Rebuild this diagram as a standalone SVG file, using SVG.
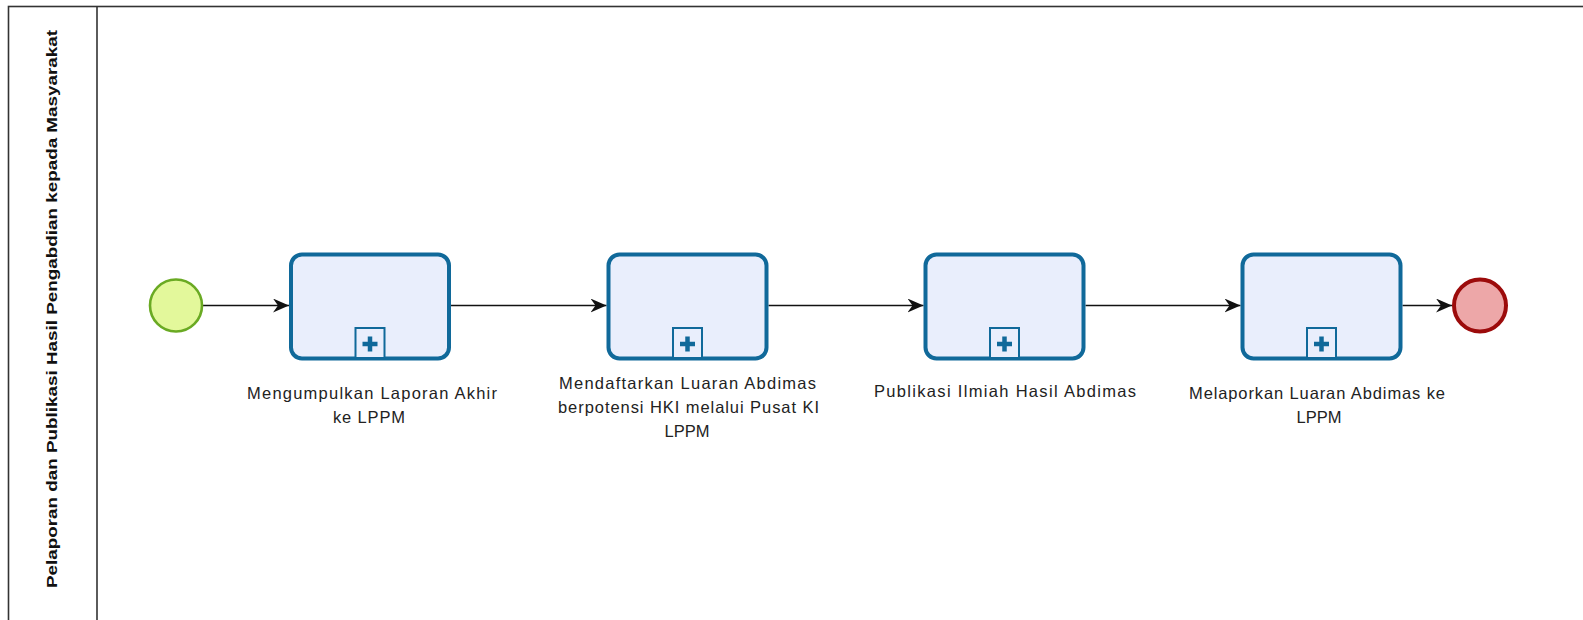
<svg xmlns="http://www.w3.org/2000/svg" width="1583" height="620" viewBox="0 0 1583 620">
<style>
.pool{fill:#fff;stroke:#333;stroke-width:1.6}
.task{fill:#e9eefc;stroke:#10699a;stroke-width:4}
.mk{fill:#e9eefc;stroke:#10699a;stroke-width:2}
.plus{fill:none;stroke:#10699a;stroke-width:4.5}
.lbl{font-family:"Liberation Sans",Arial,sans-serif;font-size:16.5px;fill:#222;text-anchor:middle}
.title{font-family:"Liberation Sans",Arial,sans-serif;font-size:15.5px;font-weight:bold;fill:#111;text-anchor:middle}
.flow{fill:none;stroke:#111;stroke-width:1.6}
</style>
<defs>
<marker id="arr" markerUnits="userSpaceOnUse" markerWidth="18" markerHeight="16" refX="16" refY="7" orient="auto">
<path d="M16,7 L0,0 L5,7 L0,14 Z" fill="#111"/>
</marker>
</defs>
<rect width="1583" height="620" fill="#fff"/>
<g id="pool">
<rect class="pool" x="8.5" y="6.5" width="1620" height="700"/>
<line class="pool" x1="97" y1="6.5" x2="97" y2="640"/>
<text class="title" transform="translate(57,309) rotate(-90)" textLength="558" lengthAdjust="spacingAndGlyphs">Pelaporan dan Publikasi Hasil Pengabdian kepada Masyarakat</text>
</g>
<g id="connectors">
<line class="flow" x1="203" y1="305.5" x2="289" y2="305.5" marker-end="url(#arr)"/>
<line class="flow" x1="451" y1="305.5" x2="606.5" y2="305.5" marker-end="url(#arr)"/>
<line class="flow" x1="768.5" y1="305.5" x2="923.5" y2="305.5" marker-end="url(#arr)"/>
<line class="flow" x1="1085.5" y1="305.5" x2="1240.5" y2="305.5" marker-end="url(#arr)"/>
<line class="flow" x1="1402.5" y1="305.5" x2="1452" y2="305.5" marker-end="url(#arr)"/>
</g>
<g id="start">
<circle cx="176" cy="305.5" r="26" fill="#e3f89b" stroke="#6aaa23" stroke-width="2.6"/>
</g>
<g id="task1">
<rect class="task" x="291" y="254.5" width="158" height="104" rx="11"/>
<rect class="mk" x="355.5" y="328" width="29" height="30"/>
<path class="plus" d="M362.5,344 H377.5 M370,336.5 V351.5"/>
<text class="lbl" x="372" y="399" textLength="250" lengthAdjust="spacing">Mengumpulkan Laporan Akhir</text>
<text class="lbl" x="369" y="423" textLength="72" lengthAdjust="spacing">ke LPPM</text>
</g>
<g id="task2">
<rect class="task" x="608.5" y="254.5" width="158" height="104" rx="11"/>
<rect class="mk" x="673" y="328" width="29" height="30"/>
<path class="plus" d="M680,344 H695 M687.5,336.5 V351.5"/>
<text class="lbl" x="687.5" y="388.5" textLength="257" lengthAdjust="spacing">Mendaftarkan Luaran Abdimas</text>
<text class="lbl" x="688.5" y="412.5" textLength="261" lengthAdjust="spacing">berpotensi HKI melalui Pusat KI</text>
<text class="lbl" x="687" y="437">LPPM</text>
</g>
<g id="task3">
<rect class="task" x="925.5" y="254.5" width="158" height="104" rx="11"/>
<rect class="mk" x="990" y="328" width="29" height="30"/>
<path class="plus" d="M997,344 H1012 M1004.5,336.5 V351.5"/>
<text class="lbl" x="1005" y="396.5" textLength="262" lengthAdjust="spacing">Publikasi Ilmiah Hasil Abdimas</text>
</g>
<g id="task4">
<rect class="task" x="1242.5" y="254.5" width="158" height="104" rx="11"/>
<rect class="mk" x="1307" y="328" width="29" height="30"/>
<path class="plus" d="M1314,344 H1329 M1321.5,336.5 V351.5"/>
<text class="lbl" x="1317" y="398.5" textLength="256" lengthAdjust="spacing">Melaporkan Luaran Abdimas ke</text>
<text class="lbl" x="1319" y="422.5">LPPM</text>
</g>
<g id="end">
<circle cx="1480" cy="305.5" r="26" fill="#eda7a8" stroke="#9c0b0b" stroke-width="4"/>
</g>
</svg>
